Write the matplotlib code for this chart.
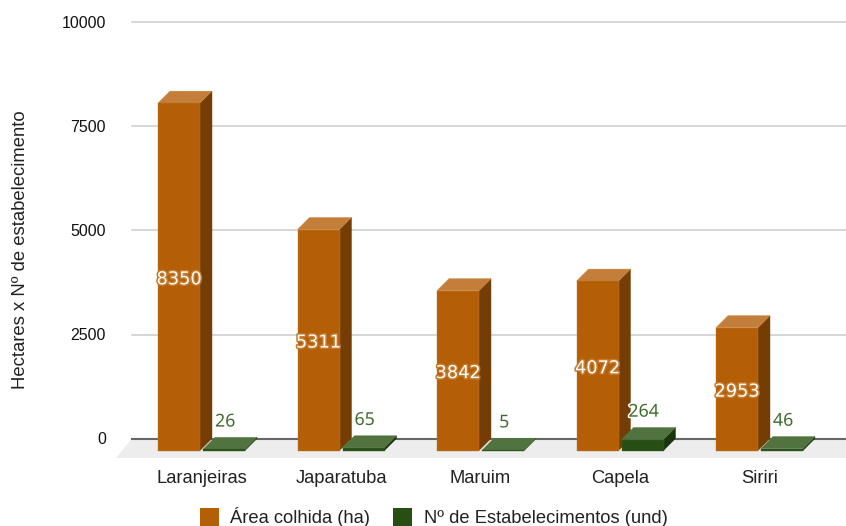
import matplotlib
matplotlib.use("Agg")
import matplotlib.pyplot as plt
import matplotlib.patheffects as pe
from matplotlib.patches import Rectangle

# Harvested area and number of holdings per municipality
municipios = ["Laranjeiras", "Japaratuba", "Maruim", "Capela", "Siriri"]
area_colhida = [8350, 5311, 3842, 4072, 2953]
estabelecimentos = [26, 65, 5, 264, 46]
y_ticks = [0, 2500, 5000, 7500, 10000]
series_names = ["Área colhida (ha)", "Nº de Estabelecimentos (und)"]
y_title = "Hectares x Nº de estabelecimento"

W, H = 846, 526
LEFT, RIGHT, TOP, BOTTOM = 132, 846, 22.5, 438.5   # plot frame in pixels
PX_X = 139.5                                       # pixels per category
PX_Y = 104 / 2500                                  # pixels per hectare
DEPTH_PX = 12
PT = 0.72                                          # points per pixel at 100 dpi
dx = DEPTH_PX / PX_X
dy = DEPTH_PX / PX_Y

plt.rcParams["font.family"] = ["Liberation Sans", "DejaVu Sans"]

fig = plt.figure(figsize=(W / 100, H / 100), dpi=100, facecolor="white")
ax = fig.add_axes([LEFT / W, 1 - BOTTOM / H, (RIGHT - LEFT) / W, (BOTTOM - TOP) / H])
ax.set_ylim(0, 10000)
ax.set_xlim(-(158 - LEFT) / PX_X, (RIGHT - 158) / PX_X)
for s in ax.spines.values():
    s.set_visible(False)
ax.patch.set_alpha(0)

BAR_W = 42 / PX_X
GROUP_GAP = 45 / PX_X


def box(x, value, front, side, top, edge, z):
    """Extruded bar: the front face sits one depth step below the axis plane."""
    base = -dy
    x2 = x + BAR_W
    ax.fill([x2, x2 + dx, x2 + dx, x2], [base, 0, value, value - dy],
            facecolor=side, edgecolor=side, lw=0.3, zorder=z, clip_on=False)
    ax.fill([x, x + dx, x2 + dx, x2], [value - dy, value, value, value - dy],
            facecolor=top, edgecolor=top, lw=0.3, zorder=z, clip_on=False)
    ax.fill([x, x2, x2, x], [base, base, value - dy, value - dy],
            facecolor=front, edgecolor=edge, lw=0.3, zorder=z + 0.1, clip_on=False)


# Floor plane, running off the right-hand edge, and gridlines
x0, x1 = ax.get_xlim()
ax.fill([x0, x1 + 30 / PX_X, x1 + 14 / PX_X, x0 - 16 / PX_X],
        [0, 0, -19.5 / PX_Y, -19.5 / PX_Y],
        facecolor="#ededed", edgecolor="none", zorder=0.5, clip_on=False)
for t in y_ticks[1:]:
    ax.axhline(t, color="#cccccc", lw=1.1, zorder=1, clip_on=False)
ax.axhline(0, color="#666666", lw=1.5, zorder=1.5, clip_on=False)

for i, (a, e) in enumerate(zip(area_colhida, estabelecimentos)):
    box(i, a, "#b45f06", "#743d04", "#c37f39", "#c07a30", 3)
    box(i + GROUP_GAP, e, "#274e13", "#1a340c", "#50733f", "#3f6330", 3.5)

    ax.annotate(str(a), (i + BAR_W / 2, (a - 2 * dy) / 2), ha="center", va="center",
                xytext=(0, -2.5 * PT), textcoords="offset points", color="white",
                family="DejaVu Sans", fontsize=12.8, zorder=6,
                path_effects=[pe.withStroke(linewidth=2.2, foreground="#c47a2c")],
                annotation_clip=False)
    ax.annotate(str(e), (i + GROUP_GAP + BAR_W / 2, e), ha="center", va="center",
                xytext=(1.2 * PT, 11.4), textcoords="offset points", color="#3f6b2f",
                family="Noto Sans", fontsize=12.8, zorder=6,
                path_effects=[pe.withStroke(linewidth=2.2, foreground="white")],
                annotation_clip=False)

ax.set_yticks(y_ticks)
ax.set_yticklabels([str(t) for t in y_ticks], fontsize=11.5, color="#111111")
ax.tick_params(axis="y", length=0, pad=(LEFT - 106) * PT)
ax.set_xticks([])

# Category labels below the floor
for i, m in enumerate(municipios):
    ax.annotate(m, (i + (GROUP_GAP + BAR_W) / 2, 0), xytext=(0, -44.5 * PT),
                textcoords="offset points", ha="center", va="baseline",
                fontsize=13.2, color="#222222", annotation_clip=False)

fig.text(21 / W, 1 - 250 / H, y_title, rotation=90, ha="center", va="center",
         fontsize=13.3, color="#222222")

# Legend row along the lower edge
for left, colour, label, tx in [(200, "#b45f06", series_names[0], 230),
                                (393, "#274e13", series_names[1], 424)]:
    fig.add_artist(Rectangle((left / W, 1 - 526 / H), 18.5 / W, 18 / H, transform=fig.transFigure,
                             facecolor=colour, edgecolor="none"))
    fig.text(tx / W, 1 - 523 / H, label, ha="left", va="baseline", fontsize=13.2, color="#222222")

fig.savefig("out.png", dpi=100, facecolor="white")
